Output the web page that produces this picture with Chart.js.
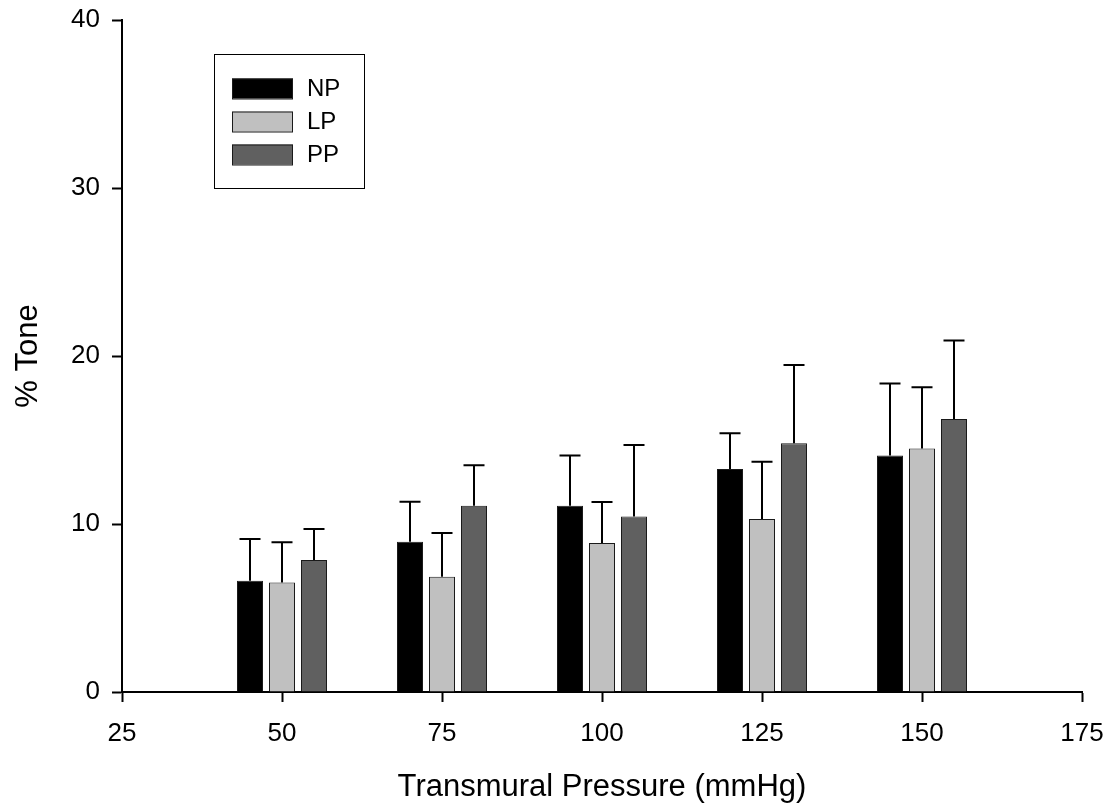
<!DOCTYPE html>
<html>
<head>
<meta charset="utf-8">
<script src="https://cdn.jsdelivr.net/npm/chart.js@4/dist/chart.umd.min.js"></script>
<style>
  html, body { margin: 0; padding: 0; background: #ffffff; }
  #wrap { width: 1118px; height: 810px; }
</style>
</head>
<body>
<div id="wrap"><canvas id="c" width="1118" height="810"></canvas></div>
<script>
// ---- data ----
const pressures = [50, 75, 100, 125, 150];
const seriesNames = ['NP', 'LP', 'PP'];
const npMean = [6.62, 8.95, 11.09, 13.27, 14.07];
const npErr  = [2.48, 2.38, 2.98, 2.13, 4.30];
const lpMean = [6.52, 6.86, 8.87, 10.30, 14.50];
const lpErr  = [2.39, 2.60, 2.44, 3.41, 3.64];
const ppMean = [7.86, 11.09, 10.45, 14.80, 16.25];
const ppErr  = [1.84, 2.41, 4.25, 4.66, 4.68];
const xTicks = [25, 50, 75, 100, 125, 150, 175];
const yTicks = [0, 10, 20, 30, 40];

const FONT = "'Liberation Sans', Arial, Helvetica, sans-serif";
const colors = ['#000000', '#c0c0c0', '#606060'];
const means = [npMean, lpMean, ppMean];
const errs = [npErr, lpErr, ppErr];

const datasets = seriesNames.map((name, s) => ({
  label: name,
  data: pressures.map((p, i) => ({ x: p, y: means[s][i] })),
  errors: errs[s],
  backgroundColor: colors[s],
  borderColor: '#1a1a1a',
  borderWidth: 1,
  categoryPercentage: 0.6,
  barPercentage: 0.8125
}));

const errorBarPlugin = {
  id: 'errorBars',
  afterDatasetsDraw(chart) {
    const ctx = chart.ctx;
    const yScale = chart.scales.y;
    ctx.save();
    ctx.strokeStyle = '#000';
    ctx.lineWidth = 2;
    chart.data.datasets.forEach((ds, di) => {
      const meta = chart.getDatasetMeta(di);
      meta.data.forEach((bar, i) => {
        const v = ds.data[i].y + ds.errors[i];
        const yTop = yScale.getPixelForValue(v);
        const x = Math.round(bar.x);
        ctx.beginPath();
        ctx.moveTo(x, bar.y);
        ctx.lineTo(x, yTop);
        ctx.moveTo(x - 10.5, yTop);
        ctx.lineTo(x + 10.5, yTop);
        ctx.stroke();
      });
    });
    ctx.restore();
  }
};

const legendPlugin = {
  id: 'boxLegend',
  afterDraw(chart) {
    const ctx = chart.ctx;
    const a = chart.chartArea;
    const bx = a.left + 92, by = a.top + 34, bw = 150, bh = 134;
    ctx.save();
    ctx.fillStyle = '#fff';
    ctx.fillRect(bx, by, bw, bh);
    ctx.strokeStyle = '#000';
    ctx.lineWidth = 1;
    ctx.strokeRect(bx + 0.5, by + 0.5, bw, bh);
    ctx.font = '24px ' + FONT;
    ctx.textBaseline = 'middle';
    chart.data.datasets.forEach((ds, i) => {
      const cy = by + 34.5 + i * 33;
      ctx.fillStyle = ds.backgroundColor;
      ctx.fillRect(bx + 18, cy - 10, 61, 20);
      ctx.strokeStyle = '#1a1a1a';
      ctx.strokeRect(bx + 18.5, cy - 9.5, 60, 20);
      ctx.fillStyle = '#000';
      ctx.fillText(ds.label, bx + 93, cy + 1);
    });
    ctx.restore();
  }
};

new Chart(document.getElementById('c'), {
  type: 'bar',
  data: { datasets },
  plugins: [errorBarPlugin, legendPlugin],
  options: {
    responsive: false,
    animation: false,
    events: [],
    layout: { padding: { left: 0, right: 36, top: 20, bottom: 0 } },
    plugins: { legend: { display: false }, tooltip: { enabled: false } },
    scales: {
      x: {
        type: 'linear',
        offset: false,
        min: 25, max: 175,
        afterBuildTicks(scale) { scale.ticks = xTicks.map(v => ({ value: v })); },
        afterFit(scale) { scale.height = 118; scale.paddingLeft = 0; scale.paddingRight = 0; },
        grid: { offset: false, drawOnChartArea: false, drawTicks: true, tickLength: 10, tickColor: '#000', tickWidth: 2 },
        border: { display: true, color: '#000', width: 2 },
        ticks: { color: '#000', font: { family: FONT, size: 26 }, padding: 16, maxRotation: 0 },
        title: { display: true, text: 'Transmural Pressure (mmHg)', color: '#000',
                 font: { family: FONT, size: 31, lineHeight: 1 }, padding: { top: 0, bottom: 7 } }
      },
      y: {
        type: 'linear',
        min: 0, max: 40,
        afterBuildTicks(scale) { scale.ticks = yTicks.map(v => ({ value: v })); },
        afterFit(scale) { scale.width = 122; scale.paddingTop = 0; scale.paddingBottom = 0; },
        grid: { drawOnChartArea: false, drawTicks: true, tickLength: 10, tickColor: '#000', tickWidth: 2 },
        border: { display: true, color: '#000', width: 2 },
        ticks: { color: '#000', font: { family: FONT, size: 26 }, padding: 12 },
        title: { display: true, text: '% Tone', color: '#000',
                 font: { family: FONT, size: 31, lineHeight: 1 }, padding: { top: 13, bottom: 0 } }
      }
    }
  }
});
</script>
</body>
</html>
